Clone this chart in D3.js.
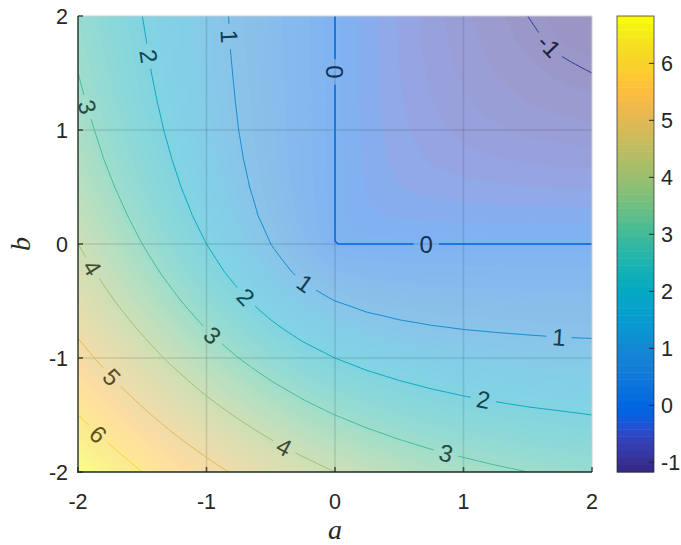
<!DOCTYPE html>
<html><head><meta charset="utf-8">
<script src="https://cdn.jsdelivr.net/npm/d3@7"></script>
<style>body{margin:0;background:#fff}svg{display:block}</style>
</head><body><svg id="c" width="681" height="545"></svg>
<script>
// ---- data ----
const aValues = [-2,-1.75,-1.5,-1.25,-1,-0.75,-0.5,-0.25,0,0.25,0.5,0.75,1,1.25,1.5,1.75,2];
const bValues = [2,1.75,1.5,1.25,1,0.75,0.5,0.25,0,-0.25,-0.5,-0.75,-1,-1.25,-1.5,-1.75,-2];
const fRow_b2    = [2.83,2.41,2.00,1.61,1.24,0.89,0.56,0.27,0,-0.23,-0.44,-0.61,-0.76,-0.89,-1.00,-1.09,-1.17];
const fRow_b175  = [2.91,2.48,2.06,1.65,1.27,0.90,0.57,0.27,0,-0.23,-0.43,-0.60,-0.73,-0.85,-0.95,-1.03,-1.09];
const fRow_b15   = [3.00,2.56,2.12,1.70,1.30,0.93,0.58,0.27,0,-0.23,-0.42,-0.57,-0.70,-0.80,-0.88,-0.95,-1.00];
const fRow_b125  = [3.11,2.65,2.20,1.77,1.35,0.96,0.60,0.28,0,-0.23,-0.40,-0.54,-0.65,-0.73,-0.80,-0.85,-0.89];
const fRow_b1    = [3.24,2.77,2.30,1.85,1.41,1.00,0.62,0.28,0,-0.22,-0.38,-0.50,-0.59,-0.65,-0.70,-0.73,-0.76];
const fRow_b075  = [3.39,2.90,2.43,1.96,1.50,1.06,0.65,0.29,0,-0.21,-0.35,-0.44,-0.50,-0.54,-0.57,-0.60,-0.61];
const fRow_b05   = [3.56,3.07,2.58,2.10,1.62,1.15,0.71,0.31,0,-0.19,-0.29,-0.35,-0.38,-0.40,-0.42,-0.43,-0.44];
const fRow_b025  = [3.77,3.27,2.77,2.28,1.78,1.29,0.81,0.35,0,-0.15,-0.19,-0.21,-0.22,-0.23,-0.23,-0.23,-0.23];
const fRow_b0    = [4.00,3.50,3.00,2.50,2.00,1.50,1.00,0.50,0,0,0,0,0,0,0,0,0];
const fRow_bm025 = [4.27,3.77,3.27,2.78,2.28,1.79,1.31,0.85,0.50,0.35,0.31,0.29,0.28,0.28,0.27,0.27,0.27];
const fRow_bm05  = [4.56,4.07,3.58,3.10,2.62,2.15,1.71,1.31,1.00,0.81,0.71,0.65,0.62,0.60,0.58,0.57,0.56];
const fRow_bm075 = [4.89,4.40,3.93,3.46,3.00,2.56,2.15,1.79,1.50,1.29,1.15,1.06,1.00,0.96,0.93,0.90,0.89];
const fRow_bm1   = [5.24,4.77,4.30,3.85,3.41,3.00,2.62,2.28,2.00,1.78,1.62,1.50,1.41,1.35,1.30,1.27,1.24];
const fRow_bm125 = [5.61,5.15,4.70,4.27,3.85,3.46,3.10,2.78,2.50,2.28,2.10,1.96,1.85,1.77,1.70,1.65,1.61];
const fRow_bm15  = [6.00,5.56,5.12,4.70,4.30,3.93,3.58,3.27,3.00,2.77,2.58,2.43,2.30,2.20,2.12,2.06,2.00];
const fRow_bm175 = [6.41,5.98,5.56,5.15,4.77,4.40,4.07,3.77,3.50,3.27,3.07,2.90,2.77,2.65,2.56,2.48,2.41];
const fRow_bm2   = [6.83,6.41,6.00,5.61,5.24,4.89,4.56,4.27,4.00,3.77,3.56,3.39,3.24,3.11,3.00,2.91,2.83];
const fGrid = [fRow_b2,fRow_b175,fRow_b15,fRow_b125,fRow_b1,fRow_b075,fRow_b05,fRow_b025,fRow_b0,
               fRow_bm025,fRow_bm05,fRow_bm075,fRow_bm1,fRow_bm125,fRow_bm15,fRow_bm175,fRow_bm2];

const contourLevels = [-1,0,1,2,3,4,5,6];
const labelLevel = [-1,0,0,1,1,1,2,2,2,3,3,3,4,4,5,6];
const labelA     = [1.66,0,0.71,-0.83,-0.23,1.74,-1.49,-0.70,1.15,-1.96,-0.97,0.86,-1.92,-0.40,-1.75,-1.86];
const labelB     = [1.73,1.51,0,1.82,-0.34,-0.84,1.64,-0.47,-1.39,1.19,-0.82,-1.85,-0.23,-1.79,-1.18,-1.69];

const xTicks = [-2,-1,0,1,2];
const yTicks = [-2,-1,0,1,2];
const cbTicks = [-1,0,1,2,3,4,5,6];
const xLabel = "a", yLabel = "b";

// parula colormap (64 entries)
const parula64 = [
[0.2081,0.1663,0.5292],[0.2116,0.1898,0.5777],[0.2123,0.2138,0.6270],[0.2081,0.2386,0.6771],
[0.1959,0.2645,0.7279],[0.1707,0.2919,0.7792],[0.1253,0.3242,0.8303],[0.0591,0.3598,0.8683],
[0.0117,0.3875,0.8820],[0.0060,0.4086,0.8828],[0.0165,0.4266,0.8786],[0.0329,0.4430,0.8720],
[0.0498,0.4586,0.8641],[0.0629,0.4737,0.8554],[0.0723,0.4887,0.8467],[0.0779,0.5040,0.8384],
[0.0793,0.5200,0.8312],[0.0749,0.5375,0.8263],[0.0641,0.5570,0.8240],[0.0488,0.5772,0.8228],
[0.0343,0.5966,0.8199],[0.0265,0.6137,0.8135],[0.0239,0.6287,0.8038],[0.0231,0.6418,0.7913],
[0.0228,0.6535,0.7768],[0.0267,0.6642,0.7607],[0.0384,0.6743,0.7436],[0.0590,0.6838,0.7254],
[0.0843,0.6928,0.7062],[0.1133,0.7015,0.6859],[0.1453,0.7098,0.6646],[0.1801,0.7177,0.6424],
[0.2178,0.7250,0.6193],[0.2586,0.7317,0.5954],[0.3022,0.7376,0.5712],[0.3482,0.7424,0.5473],
[0.3953,0.7459,0.5244],[0.4420,0.7481,0.5033],[0.4871,0.7491,0.4840],[0.5300,0.7491,0.4661],
[0.5709,0.7485,0.4494],[0.6099,0.7473,0.4337],[0.6473,0.7456,0.4188],[0.6834,0.7435,0.4044],
[0.7184,0.7411,0.3905],[0.7525,0.7384,0.3768],[0.7858,0.7356,0.3633],[0.8185,0.7327,0.3498],
[0.8507,0.7299,0.3360],[0.8824,0.7274,0.3217],[0.9139,0.7258,0.3063],[0.9450,0.7261,0.2886],
[0.9739,0.7314,0.2666],[0.9938,0.7455,0.2403],[0.9990,0.7653,0.2164],[0.9955,0.7861,0.1967],
[0.9880,0.8066,0.1794],[0.9789,0.8271,0.1633],[0.9697,0.8481,0.1475],[0.9626,0.8705,0.1309],
[0.9589,0.8949,0.1132],[0.9598,0.9218,0.0948],[0.9661,0.9514,0.0755],[0.9763,0.9831,0.0538]];

// ---- layout ----
const L = 78, R = 592, T = 16, B = 472;
const CBX = 617, CBW = 37;
const FONT = "'Liberation Sans', Arial, Helvetica, sans-serif";
const SERIF = "'Liberation Serif', 'Times New Roman', serif";
const SURF_ALPHA = 0.5;
const TFS = 21.5;   // tick font size
const LFS = 24;     // contour label font size

const svg = d3.select('#c');
const defs = svg.append('defs');
defs.append('clipPath').attr('id','plotclip').append('rect')
  .attr('x',L).attr('y',T).attr('width',R-L).attr('height',B-T);

const x = d3.scaleLinear().domain([aValues[0], aValues[aValues.length-1]]).range([L,R]);
const y = d3.scaleLinear().domain([bValues[bValues.length-1], bValues[0]]).range([B,T]);

const flat = fGrid.flat();
const vmin = d3.min(flat), vmax = d3.max(flat);
const nC = parula64.length;
const cIndex = v => Math.max(0, Math.min(nC-1, Math.floor((v - vmin)/(vmax - vmin)*nC)));
const rgbOf = (k, alpha, base) => {
  const c = parula64[k];
  return d3.rgb(...c.map(u => u*255*alpha + base*(1-alpha))).formatHex();
};
const surfColor = k => rgbOf(k, SURF_ALPHA, 255);
const lineColor = k => rgbOf(k, 1, 255);
const textColor = k => rgbOf(k, 0.32, 22);

// ---- fine grid for rendering (bilinear between read values) ----
const Fz = 10;
const nA = aValues.length, nB = bValues.length;
const NX = (nA-1)*Fz+1, NY = (nB-1)*Fz+1;
const hA = (aValues[nA-1]-aValues[0])/(NX-1);
const hB = (bValues[0]-bValues[nB-1])/(NY-1);
const fine = new Float64Array(NX*NY);
for (let j=0;j<NY;j++){
  const iy = Math.min(Math.floor(j/Fz), nB-2), ty = (j - iy*Fz)/Fz;
  for (let i=0;i<NX;i++){
    const ix = Math.min(Math.floor(i/Fz), nA-2), tx = (i - ix*Fz)/Fz;
    const v00=fGrid[iy][ix], v01=fGrid[iy][ix+1], v10=fGrid[iy+1][ix], v11=fGrid[iy+1][ix+1];
    fine[j*NX+i] = (1-ty)*((1-tx)*v00 + tx*v01) + ty*((1-tx)*v10 + tx*v11);
  }
}
const toX = cx => x(aValues[0] + (cx-0.5)*hA);
const toY = cy => y(bValues[0] - (cy-0.5)*hB);
const gen = d3.contours().size([NX,NY]);

function mpPath(mp){
  let d = '';
  mp.coordinates.forEach(poly => poly.forEach(ring => {
    ring.forEach((p,i) => { d += (i ? 'L' : 'M') + toX(p[0]).toFixed(2) + ',' + toY(p[1]).toFixed(2); });
    d += 'Z';
  }));
  return d;
}

// ---- surface (banded, semi-transparent look) ----
const gSurf = svg.append('g').attr('clip-path','url(#plotclip)');
gSurf.append('rect').attr('x',L).attr('y',T).attr('width',R-L).attr('height',B-T).attr('fill', surfColor(0));
const stepC = (vmax - vmin)/nC;
for (let k=1;k<nC;k++){
  const t = vmin + k*stepC;
  const mp = gen.contour(fine, t);
  gSurf.append('path').attr('d', mpPath(mp)).attr('fill', surfColor(k))
    .attr('fill-rule','evenodd').attr('stroke', surfColor(k)).attr('stroke-width',0.3);
}

// ---- grid ----
const gGrid = svg.append('g');
xTicks.filter(v => v>aValues[0] && v<aValues[nA-1]).forEach(v => {
  gGrid.append('line').attr('x1',x(v)).attr('x2',x(v)).attr('y1',T).attr('y2',B)
    .attr('stroke','#000').attr('stroke-opacity',0.11).attr('stroke-width',1.6);
});
yTicks.filter(v => v>bValues[nB-1] && v<bValues[0]).forEach(v => {
  gGrid.append('line').attr('x1',L).attr('x2',R).attr('y1',y(v)).attr('y2',y(v))
    .attr('stroke','#000').attr('stroke-opacity',0.11).attr('stroke-width',1.6);
});

// ---- contour lines ----
const onB = p => p[0]<=0 || p[0]>=NX || p[1]<=0 || p[1]>=NY;
function splitRing(ring){
  let pts = ring;
  const f0 = pts[0], fl = pts[pts.length-1];
  if (pts.length>1 && f0[0]===fl[0] && f0[1]===fl[1]) pts = pts.slice(0,-1);
  const n = pts.length;
  const isB = i => onB(pts[i]) && onB(pts[(i+1)%n]);
  let s = -1;
  for (let i=0;i<n;i++) if (isB(i)) { s = i; break; }
  if (s < 0) return [pts.concat([pts[0]])];
  const out = []; let cur = null;
  for (let k=1;k<=n;k++){
    const i = (s+k)%n;
    if (isB(i)) { if (cur) { out.push(cur); cur = null; } }
    else { if (!cur) cur = [pts[i]]; cur.push(pts[(i+1)%n]); }
  }
  if (cur) out.push(cur);
  return out;
}
const levelLines = new Map();
contourLevels.forEach(lv => {
  const mp = gen.contour(fine, lv);
  const lines = [];
  mp.coordinates.forEach(poly => poly.forEach(ring => {
    splitRing(ring).forEach(pl => lines.push(pl.map(p => [toX(p[0]), toY(p[1])])));
  }));
  levelLines.set(lv, lines);
});

const mask = defs.append('mask').attr('id','gapmask').attr('maskUnits','userSpaceOnUse')
  .attr('x',0).attr('y',0).attr('width',681).attr('height',545);
mask.append('rect').attr('x',0).attr('y',0).attr('width',681).attr('height',545).attr('fill','#fff');

const gLinesOuter = svg.append('g').attr('clip-path','url(#plotclip)');
const gLines = gLinesOuter.append('g').attr('mask','url(#gapmask)');
const lineGen = d3.line();
contourLevels.forEach(lv => {
  const k = cIndex(lv);
  levelLines.get(lv).forEach(pl => {
    gLines.append('path').attr('d', lineGen(pl)).attr('fill','none')
      .attr('stroke', lineColor(k)).attr('stroke-width', lv === 0 ? 1.5 : 1)
      .attr('stroke-linejoin','round');
  });
});

// ---- contour labels ----
const gLab = svg.append('g');
function nearestOnLines(lines, px, py){
  let best = null;
  lines.forEach((pl, li) => {
    for (let i=0;i<pl.length-1;i++){
      const [x1,y1] = pl[i], [x2,y2] = pl[i+1];
      const dx = x2-x1, dy = y2-y1, l2 = dx*dx+dy*dy;
      let t = l2 > 0 ? ((px-x1)*dx + (py-y1)*dy)/l2 : 0;
      t = Math.max(0, Math.min(1, t));
      const qx = x1+t*dx, qy = y1+t*dy;
      const d = (qx-px)**2 + (qy-py)**2;
      if (!best || d < best.d) best = {d, qx, qy, li, i};
    }
  });
  return best;
}
function tangentAngle(pl, i, qx, qy, span){
  const walk = (dir) => {
    let px = qx, py = qy, rem = span, idx = dir > 0 ? i+1 : i;
    while (idx >= 0 && idx < pl.length) {
      const [nx, ny] = pl[idx];
      const dd = Math.hypot(nx-px, ny-py);
      if (dd >= rem) { const t = rem/dd; return [px + (nx-px)*t, py + (ny-py)*t]; }
      rem -= dd; px = nx; py = ny; idx += dir;
    }
    return [px, py];
  };
  const a = walk(-1), b = walk(1);
  let ang = Math.atan2(b[1]-a[1], b[0]-a[0]) * 180/Math.PI;
  while (ang > 90) ang -= 180;
  while (ang <= -90) ang += 180;
  return ang;
}
labelLevel.forEach((lv, n) => {
  const px = x(labelA[n]), py = y(labelB[n]);
  const lines = levelLines.get(lv);
  const hit = nearestOnLines(lines, px, py);
  let qx = px, qy = py, ang = 0;
  if (hit) { qx = hit.qx; qy = hit.qy; ang = tangentAngle(lines[hit.li], hit.i, qx, qy, 10); }
  const txt = String(lv);
  const t = gLab.append('text')
    .attr('transform', `translate(${qx},${qy}) rotate(${ang})`)
    .attr('text-anchor','middle').attr('dy','0.36em')
    .attr('font-family', FONT).attr('font-size', LFS)
    .attr('fill', textColor(cIndex(lv))).text(txt);
  const w = t.node().getComputedTextLength();
  mask.append('rect').attr('x', -w/2 - 6).attr('y', -LFS*0.42)
    .attr('width', w + 12).attr('height', LFS*0.84)
    .attr('transform', `translate(${qx},${qy}) rotate(${ang})`).attr('fill','#000');
});

// ---- axes ----
const gAx = svg.append('g');
gAx.append('line').attr('x1',L).attr('x2',R).attr('y1',T).attr('y2',T).attr('stroke','#cfcfcf').attr('stroke-width',1);
gAx.append('line').attr('x1',R).attr('x2',R).attr('y1',T).attr('y2',B).attr('stroke','#cfcfcf').attr('stroke-width',1);
gAx.append('line').attr('x1',L).attr('x2',L).attr('y1',T).attr('y2',B+0.8).attr('stroke','#1c2a22').attr('stroke-opacity',0.75).attr('stroke-width',1.8);
gAx.append('line').attr('x1',L-0.8).attr('x2',R).attr('y1',B).attr('y2',B).attr('stroke','#1c2a22').attr('stroke-opacity',0.75).attr('stroke-width',1.8);
xTicks.forEach(v => {
  gAx.append('line').attr('x1',x(v)).attr('x2',x(v)).attr('y1',B).attr('y2',B-5)
    .attr('stroke','#1c2a22').attr('stroke-opacity',0.75).attr('stroke-width',1.6);
  gAx.append('text').attr('x',x(v)).attr('y',509).attr('text-anchor','middle')
    .attr('font-family',FONT).attr('font-size',TFS).attr('fill','#262626').text(String(v));
});
yTicks.forEach(v => {
  gAx.append('line').attr('x1',L).attr('x2',L+5).attr('y1',y(v)).attr('y2',y(v))
    .attr('stroke','#1c2a22').attr('stroke-opacity',0.75).attr('stroke-width',1.6);
  gAx.append('text').attr('x',68).attr('y',y(v)).attr('dy','0.36em').attr('text-anchor','end')
    .attr('font-family',FONT).attr('font-size',TFS).attr('fill','#262626').text(String(v));
});
gAx.append('text').attr('x',(L+R)/2).attr('y',539).attr('text-anchor','middle')
  .attr('font-family',SERIF).attr('font-style','italic').attr('font-size',28).attr('fill','#262626').text(xLabel);
gAx.append('text').attr('transform',`translate(30,${(T+B)/2}) rotate(-90)`).attr('text-anchor','middle')
  .attr('font-family',SERIF).attr('font-style','italic').attr('font-size',28).attr('fill','#262626').text(yLabel);

// ---- colorbar ----
const cy = d3.scaleLinear().domain([vmin, vmax]).range([B, T]);
const gCb = svg.append('g');
for (let k=0;k<nC;k++){
  const v0 = vmin + k*stepC, v1 = vmin + (k+1)*stepC;
  gCb.append('rect').attr('x',CBX).attr('width',CBW)
    .attr('y', cy(v1)).attr('height', cy(v0)-cy(v1)+0.5).attr('fill', lineColor(k));
}
gCb.append('rect').attr('x',CBX).attr('y',T).attr('width',CBW).attr('height',B-T)
  .attr('fill','none').attr('stroke','#262626').attr('stroke-opacity',0.7).attr('stroke-width',1);
cbTicks.forEach(v => {
  gCb.append('line').attr('x1',CBX+CBW).attr('x2',CBX+CBW-5).attr('y1',cy(v)).attr('y2',cy(v))
    .attr('stroke','#262626').attr('stroke-width',1);
  gCb.append('text').attr('x',CBX+CBW+7).attr('y',cy(v)).attr('dy','0.36em')
    .attr('font-family',FONT).attr('font-size',TFS).attr('fill','#262626').text(String(v));
});
</script></body></html>
